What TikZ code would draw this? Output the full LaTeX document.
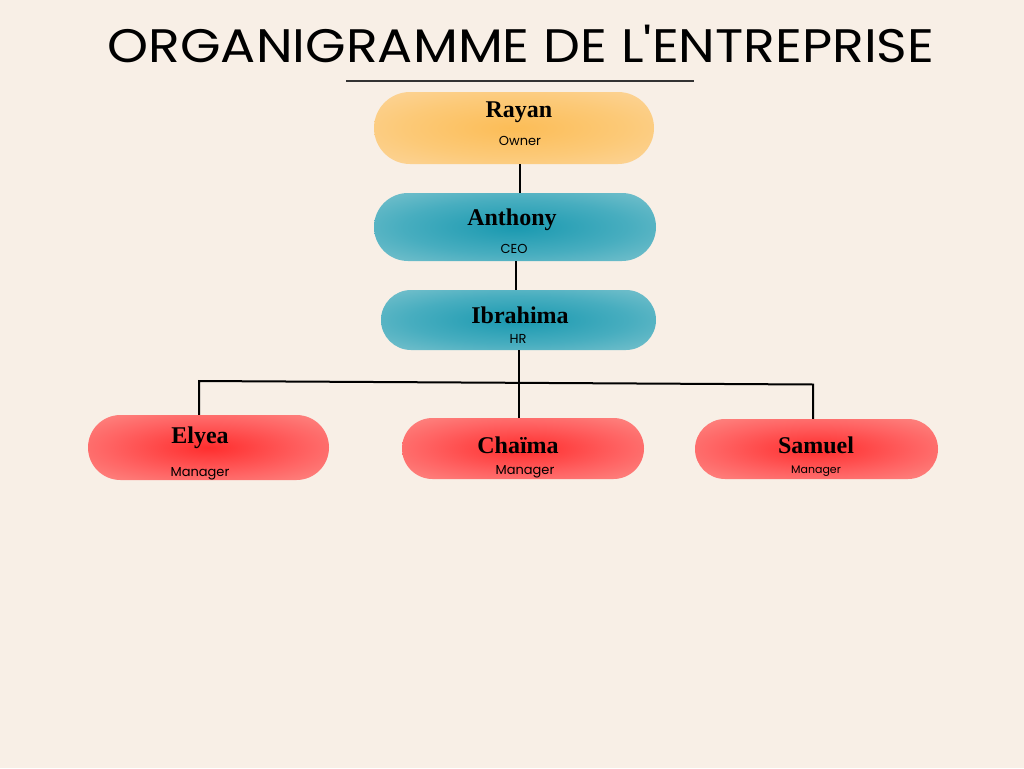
\documentclass[tikz,border=0pt]{standalone}
\usepackage{fontspec}
\setmainfont{Liberation Serif}
\newfontfamily\titlefont{Poppins}
\newfontfamily\rolefont{Poppins}
\usetikzlibrary{shapes.misc}
\definecolor{paper}{RGB}{248,239,230}
% one shading per level of the chart
\pgfdeclareradialshading{ownershade}{\pgfpoint{0bp}{0bp}}{%
  rgb(0bp)=(0.99,0.74,0.34); rgb(20bp)=(0.99,0.79,0.47); rgb(38bp)=(0.99,0.84,0.62); rgb(50bp)=(0.99,0.89,0.76)}
\pgfdeclareradialshading{bossshade}{\pgfpoint{0bp}{0bp}}{%
  rgb(0bp)=(0.10,0.60,0.69); rgb(20bp)=(0.28,0.68,0.75); rgb(38bp)=(0.50,0.77,0.81); rgb(50bp)=(0.68,0.85,0.86)}
\pgfdeclareradialshading{managershade}{\pgfpoint{0bp}{0bp}}{%
  rgb(0bp)=(1,0.18,0.18); rgb(20bp)=(1,0.38,0.38); rgb(38bp)=(0.99,0.56,0.54); rgb(50bp)=(0.98,0.71,0.68)}
\newcommand{\whofont}{\fontsize{24}{26}\selectfont\bfseries}
\newcommand{\jobfont}{\rolefont\fontsize{13}{15}\selectfont}

\begin{document}
\begin{tikzpicture}[x=1pt,y=-1pt]
\tikzstyle{pill}=[rounded rectangle, shade, draw=none, inner sep=0pt]
\tikzstyle{who}=[anchor=base, inner sep=0pt, font=\whofont]
\tikzstyle{job}=[anchor=base, inner sep=0pt, font=\jobfont]
\tikzstyle{wire}=[line width=2pt, black]

\fill[paper] (0,0) rectangle (1024,768);
\useasboundingbox (0,0) rectangle (1024,768);

% title
\node[anchor=base, inner sep=0pt, xscale=1.11, transform shape, font=\titlefont\fontsize{47}{50}\selectfont] (title) at (521,63) {ORGANIGRAMME DE L'ENTREPRISE};
\draw[line width=1.5pt, black!80] (346,81) coordinate (ul1) -- (694,81) coordinate (ul2);

% boxes
\node[pill, shading=ownershade, minimum width=280pt, minimum height=72pt] (rayan) at (514,128) {};
\node[pill, shading=bossshade, minimum width=282pt, minimum height=68pt] (anthony) at (515,227) {};
\node[pill, shading=bossshade, minimum width=275pt, minimum height=60pt] (ibrahima) at (518.5,320) {};
\node[pill, shading=managershade, minimum width=241pt, minimum height=65pt] (elyea) at (208.5,447.5) {};
\node[pill, shading=managershade, minimum width=242pt, minimum height=61pt] (chaima) at (523,448.5) {};
\node[pill, shading=managershade, minimum width=243pt, minimum height=60pt] (samuel) at (816.5,449) {};

% names and roles
\node[who] (rayan-n) at (519,117) {Rayan};
\node[job] (rayan-r) at (520,145) {Owner};
\node[who] (anthony-n) at (512,225) {Anthony};
\node[job] (anthony-r) at (514,253) {CEO};
\node[who] (ibrahima-n) at (520,323) {Ibrahima};
\node[job] (ibrahima-r) at (518,343) {HR};
\node[who] (elyea-n) at (200,443) {Elyea};
\node[job] (elyea-r) at (200,476) {Manager};
\node[who] (chaima-n) at (518,453) {Chaïma};
\node[job] (chaima-r) at (525,474) {Manager};
\node[who] (samuel-n) at (816,453) {Samuel};
\node[job, font=\rolefont\fontsize{11}{13}\selectfont] (samuel-r) at (816,473) {Manager};

% links
\coordinate (busL) at (199,381);
\coordinate (busR) at (813,384.5);
\draw[wire] ([xshift=6pt]rayan.south) -- ([xshift=6pt]rayan.south |- anthony.north);
\draw[wire] ([xshift=1pt]anthony.south) -- ([xshift=1pt]anthony.south |- ibrahima.north);
\draw[wire] (ibrahima.south) -- (ibrahima.south |- chaima.north);
\draw[wire] (elyea.north -| busL) -- (busL) -- (busR) -- (samuel.north -| busR);
\end{tikzpicture}
\end{document}
